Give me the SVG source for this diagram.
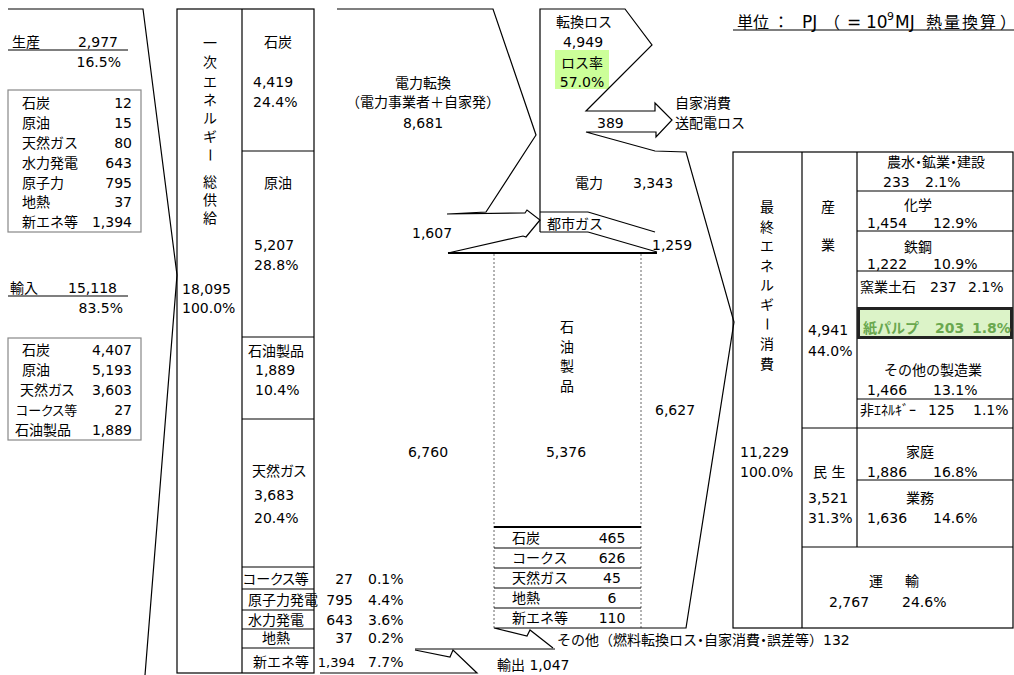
<svg xmlns="http://www.w3.org/2000/svg" width="1014" height="675" viewBox="0 0 1014 675">
<style>
text{font-family:"DejaVu Sans","Noto Sans CJK JP",sans-serif;font-size:14px;fill:#000}
.m{text-anchor:middle}
.e{text-anchor:end}
.p{font-feature-settings:"palt"}
.ln{stroke:#000;stroke-width:1.2;fill:none}
.thk{stroke:#000;stroke-width:2;fill:none}
.gbox{stroke:#888;stroke-width:1.2;fill:none}
.dot{stroke:#666;stroke-width:1;stroke-dasharray:2 2;fill:none}
.gt{fill:#6aa84f;font-weight:bold}
.lat{font-size:17px}
</style>
<rect width="1014" height="675" fill="#fff"/>

<g id="title">
<text x="737" y="28" style="font-size:16px">単位<tspan x="773">：</tspan><tspan class="lat" x="802">PJ</tspan><tspan x="824">（</tspan><tspan class="lat" x="847">=</tspan><tspan class="lat" x="866">10</tspan><tspan x="887" dy="-8" style="font-size:11px">9</tspan><tspan class="lat" x="895" dy="8">MJ</tspan><tspan x="926" letter-spacing="2">熱量換算</tspan><tspan x="1000">）</tspan></text>
<line class="ln" x1="733" y1="30" x2="1014" y2="30"/>
</g>

<g id="production">
<text x="12" y="47">生産</text>
<text class="e" x="118" y="47">2,977</text>
<line class="ln" x1="8" y1="50" x2="128" y2="50"/>
<text class="e" x="121" y="67">16.5%</text>
<rect class="gbox" x="8" y="90" width="133" height="142"/>
<text x="22" y="108">石炭</text><text class="e" x="132" y="108">12</text>
<text x="22" y="128">原油</text><text class="e" x="132" y="128">15</text>
<text x="22" y="148">天然ガス</text><text class="e" x="132" y="148">80</text>
<text x="22" y="168">水力発電</text><text class="e" x="132" y="168">643</text>
<text x="22" y="188">原子力</text><text class="e" x="132" y="188">795</text>
<text x="22" y="207">地熱</text><text class="e" x="132" y="207">37</text>
<text x="22" y="227">新エネ等</text><text class="e" x="132" y="227">1,394</text>
</g>

<g id="imports">
<text x="10" y="293">輸入</text>
<text class="e" x="117" y="293">15,118</text>
<line class="ln" x1="8" y1="296" x2="128" y2="296"/>
<text class="e" x="123" y="313">83.5%</text>
<rect class="gbox" x="8" y="338" width="133" height="102"/>
<text x="22" y="355">石炭</text><text class="e" x="132" y="355">4,407</text>
<text x="22" y="375">原油</text><text class="e" x="132" y="375">5,193</text>
<text class="p" x="20" y="395">天然ガス</text><text class="e" x="132" y="395">3,603</text>
<text class="p" x="16" y="415" style="font-size:13px">コークス等</text><text class="e" x="132" y="415">27</text>
<text x="15" y="435">石油製品</text><text class="e" x="132" y="435">1,889</text>
</g>

<g id="primary-supply">
<rect class="ln" x="177" y="9" width="137" height="664"/>
<line class="ln" x1="242" y1="9" x2="242" y2="673"/>
<text class="m" x="210" y="48">一</text>
<text class="m" x="210" y="67">次</text>
<text class="m" x="210" y="87">エ</text>
<text class="m" x="210" y="105">ネ</text>
<text class="m" x="210" y="123">ル</text>
<text class="m" x="210" y="142">ギ</text>
<text class="m" x="210" y="160" transform="rotate(90 210 155)">ー</text>
<text class="m" x="210" y="187">総</text>
<text class="m" x="210" y="205">供</text>
<text class="m" x="210" y="223">給</text>
<text x="182" y="294">18,095</text>
<text x="182" y="313">100.0%</text>
</g>

<g id="sources">
<line class="ln" x1="242" y1="151" x2="314" y2="151"/>
<line class="ln" x1="242" y1="337" x2="314" y2="337"/>
<line class="ln" x1="242" y1="419" x2="314" y2="419"/>
<line class="ln" x1="242" y1="567" x2="314" y2="567"/>
<line class="ln" x1="242" y1="589" x2="314" y2="589"/>
<line class="ln" x1="242" y1="610" x2="314" y2="610"/>
<line class="ln" x1="242" y1="629" x2="314" y2="629"/>
<line class="ln" x1="242" y1="648" x2="314" y2="648"/>
<text class="m" x="278" y="47">石炭</text>
<text x="253" y="87">4,419</text>
<text x="253" y="107">24.4%</text>
<text class="m" x="278" y="188">原油</text>
<text x="254" y="250">5,207</text>
<text x="254" y="270">28.8%</text>
<text x="248" y="356">石油製品</text>
<text x="255" y="375">1,889</text>
<text x="255" y="395">10.4%</text>
<text class="p" x="252" y="476">天然ガス</text>
<text x="254" y="500">3,683</text>
<text x="254" y="523">20.4%</text>
<text class="p" x="243" y="584">コークス等</text>
<text x="248" y="605">原子力発電</text>
<text x="248" y="625">水力発電</text>
<text class="m" x="276" y="643">地熱</text>
<text x="253" y="667">新エネ等</text>
<text class="e" x="353" y="584">27</text><text x="368" y="584">0.1%</text>
<text class="e" x="353" y="605">795</text><text x="368" y="605">4.4%</text>
<text class="e" x="353" y="625">643</text><text x="368" y="625">3.6%</text>
<text class="e" x="353" y="643">37</text><text x="368" y="643">0.2%</text>
<text class="e" x="355" y="667" style="font-size:13px">1,394</text><text x="368" y="667">7.7%</text>
</g>

<g id="power-conversion">
<text class="m" x="423" y="88">電力転換</text>
<text class="m" x="423" y="107">（電力事業者＋自家発）</text>
<text class="m" x="423" y="128">8,681</text>
<text x="412" y="238">1,607</text>
<text class="m" x="428" y="457">6,760</text>
</g>

<g id="electricity">
<text class="m" x="584" y="27">転換ロス</text>
<text class="m" x="583" y="47">4,949</text>
<rect x="555" y="50" width="54" height="39" fill="#ccff99"/>
<text class="m" x="582" y="68">ロス率</text>
<text class="m" x="582" y="87">57.0%</text>
<text x="597" y="128">389</text>
<text x="675" y="108">自家消費</text>
<text x="675" y="128">送配電ロス</text>
<text x="575" y="188">電力</text>
<text x="633" y="188">3,343</text>
</g>

<g id="city-gas">
<text x="547" y="229">都市ガス</text>
<text x="652" y="250">1,259</text>
</g>

<g id="petroleum-products">
<text class="m" x="567" y="332">石</text>
<text class="m" x="567" y="352">油</text>
<text class="m" x="567" y="371">製</text>
<text class="m" x="567" y="391">品</text>
<text class="m" x="566" y="457">5,376</text>
<text x="655" y="415">6,627</text>
<line class="dot" x1="494" y1="254" x2="494" y2="628"/>
<line class="dot" x1="641" y1="254" x2="641" y2="628"/>
<line class="thk" x1="494" y1="527" x2="641" y2="527"/>
<line class="ln" x1="494" y1="548" x2="641" y2="548"/>
<line class="ln" x1="494" y1="568" x2="641" y2="568"/>
<line class="ln" x1="494" y1="588" x2="641" y2="588"/>
<line class="ln" x1="494" y1="608" x2="641" y2="608"/>
<text x="512" y="543">石炭</text><text class="m" x="612" y="543">465</text>
<text x="512" y="563">コークス</text><text class="m" x="612" y="563">626</text>
<text x="512" y="583">天然ガス</text><text class="m" x="612" y="583">45</text>
<text x="512" y="603">地熱</text><text class="m" x="612" y="603">6</text>
<text x="512" y="623">新エネ等</text><text class="m" x="612" y="623">110</text>
</g>

<g id="others">
<text x="557" y="645">その他（燃料転換ロス<tspan class="p">・</tspan>自家消費<tspan class="p">・</tspan>誤差等）132</text>
<text x="497" y="670">輸出 1,047</text>
</g>

<g id="final-consumption">
<rect class="ln" x="733" y="152" width="280" height="476"/>
<line class="ln" x1="802" y1="152" x2="802" y2="628"/>
<line class="ln" x1="857" y1="152" x2="857" y2="547"/>
<line class="ln" x1="857" y1="191" x2="1013" y2="191"/>
<line class="ln" x1="857" y1="231" x2="1013" y2="231"/>
<line class="ln" x1="857" y1="271" x2="1013" y2="271"/>
<line class="ln" x1="857" y1="399" x2="1013" y2="399"/>
<line class="ln" x1="802" y1="428" x2="1013" y2="428"/>
<line class="ln" x1="857" y1="480" x2="1013" y2="480"/>
<line class="ln" x1="802" y1="547" x2="1013" y2="547"/>
<rect x="858.5" y="308.5" width="153" height="29" fill="#dcf3c8" stroke="#222" stroke-width="3"/>
<text class="m" x="767" y="212">最</text>
<text class="m" x="767" y="232">終</text>
<text class="m" x="767" y="251">エ</text>
<text class="m" x="767" y="271">ネ</text>
<text class="m" x="767" y="290">ル</text>
<text class="m" x="767" y="310">ギ</text>
<text class="m" x="767" y="329" transform="rotate(90 767 324)">ー</text>
<text class="m" x="767" y="349">消</text>
<text class="m" x="767" y="369">費</text>
<text x="740" y="457">11,229</text>
<text x="740" y="477">100.0%</text>
<text class="m" x="828" y="212">産</text>
<text class="m" x="828" y="250">業</text>
<text x="808" y="335">4,941</text>
<text x="808" y="356">44.0%</text>
<text x="813" y="477">民 生</text>
<text x="808" y="503">3,521</text>
<text x="808" y="523">31.3%</text>
<text class="m" x="936" y="167">農水<tspan class="p">・</tspan>鉱業<tspan class="p">・</tspan>建設</text>
<text x="883" y="187">233</text><text x="925" y="187">2.1%</text>
<text class="m" x="918" y="210">化学</text>
<text x="867" y="228">1,454</text><text x="933" y="228">12.9%</text>
<text class="m" x="918" y="252">鉄鋼</text>
<text x="867" y="269">1,222</text><text x="933" y="269">10.9%</text>
<text x="860" y="292">窯業土石</text><text x="930" y="292">237</text><text x="968" y="292">2.1%</text>
<text class="gt" x="863" y="333">紙パルプ</text><text class="gt" x="935" y="333">203</text><text class="gt" x="972" y="333">1.8%</text>
<text class="m" x="933" y="375">その他の製造業</text>
<text x="867" y="395">1,466</text><text x="933" y="395">13.1%</text>
<text x="860" y="415">非ｴﾈﾙｷﾞｰ</text><text x="928" y="415">125</text><text x="973" y="415">1.1%</text>
<text class="m" x="920" y="457">家庭</text>
<text x="867" y="477">1,886</text><text x="933" y="477">16.8%</text>
<text class="m" x="920" y="503">業務</text>
<text x="867" y="523">1,636</text><text x="933" y="523">14.6%</text>
<text class="m" x="876" y="586">運</text><text class="m" x="912" y="586">輸</text>
<text x="829" y="607">2,767</text><text x="902" y="607">24.6%</text>
</g>

<g id="connectors">
<polyline class="ln" points="8,9 143,9 177,275 145,675"/>
<polyline class="ln" points="337,9 493,9 536,135 486,212 447,214 525,213 527,210 540,220 526,237 523,236 448,253"/>
<polyline class="ln" points="540,232 540,9 625,9 652,45 586,111 655,111 655,103 672,120 656,137 656,132 586,132 655,151 686,152 734,322 686,628 494,628 527,636 530,630 553,648"/>
<line class="ln" x1="540" y1="212" x2="588" y2="212"/>
<line class="ln" x1="588" y1="212" x2="655" y2="232"/>
<line class="ln" x1="540" y1="232" x2="588" y2="232"/>
<line class="ln" x1="588" y1="232" x2="657" y2="252"/>
<line class="thk" x1="448" y1="253" x2="657" y2="253"/>
<line class="ln" x1="415" y1="649" x2="555" y2="649"/>
<polyline class="ln" points="415,650 450,657 453,650 477,673 320,673"/>
</g>
</svg>
